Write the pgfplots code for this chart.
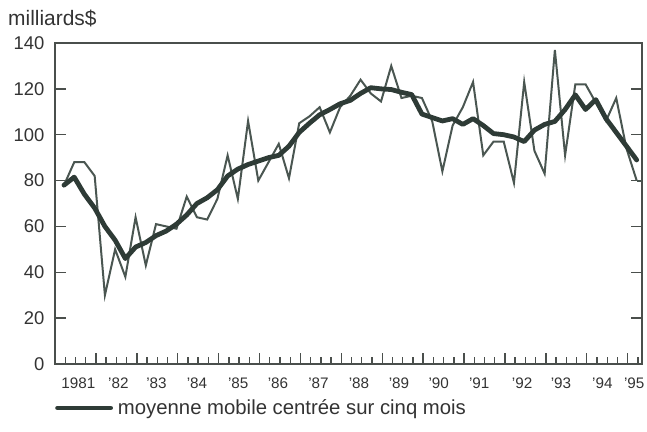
\documentclass[border=0pt]{standalone}
\usepackage{fontspec}
\setmainfont{Liberation Sans}
\usepackage{pgfplots}
\usepackage{pgfplotstable}
\pgfplotsset{compat=1.18}
\definecolor{rawc}{HTML}{4A5651}
\definecolor{mac}{HTML}{2E3B36}
\definecolor{framec}{HTML}{4A4F4C}
\definecolor{textc}{HTML}{333333}
\pgfplotstableread{
x raw ma
1981.22 78 78
1981.47 88 81.5
1981.72 88 74
1981.97 82 68
1982.22 30 60
1982.47 50 54
1982.72 38 46
1982.97 64 51
1983.22 43 53
1983.47 61 56
1983.72 60 58
1983.97 59 61
1984.22 73 65
1984.47 64 70
1984.72 63 72.5
1984.97 72 76
1985.22 91 82
1985.47 72 85
1985.72 106 87
1985.97 80 88.5
1986.22 88 90
1986.47 96 91
1986.72 81 95
1986.97 105 101
1987.22 108 105
1987.47 112 108.7
1987.72 101 111
1987.97 112 113.5
1988.22 117 115
1988.47 124 118
1988.72 118 120.5
1988.97 114.5 120
1989.22 130 119.7
1989.47 116 118.5
1989.72 117 117.5
1989.97 116 109
1990.22 106 107.5
1990.47 84 106
1990.72 104 107
1990.97 112 104.5
1991.22 123 107
1991.47 91 104
1991.72 97 100.5
1991.97 97 100
1992.22 79 99
1992.47 123 97
1992.72 93 102
1992.97 83 104.5
1993.22 137 105.8
1993.47 91 111
1993.72 122 117.4
1993.97 122 111
1994.22 114 115.3
1994.47 106 107
1994.72 116 101
1994.97 94 95
1995.22 80 89
}\datatable
\pgfplotstableread{
x raw
1995.22 80
1995.47 80
}\tailtable
\begin{document}
\begin{tikzpicture}
\path[use as bounding box] (0,0) rectangle (647bp,432bp);
\begin{axis}[
  at={(55bp,68bp)}, anchor=south west,
  scale only axis, width=587bp, height=321bp,
  xmin=1981, xmax=1995.35, ymin=0, ymax=140,
  axis line style={framec, line width=1.1bp},
  every tick/.style={framec, line width=1.4bp},
  tick align=inside,
  xtick pos=bottom, ytick pos=both, yticklabel pos=left,
  ytick={0,20,...,140},
  xtick={1981,...,1995}, xticklabels={},
  major tick length=11bp,
  minor tick length=7bp,
  minor xtick={1981.25,1981.5,1981.75,1982.25,1982.5,1982.75,1983.25,1983.5,1983.75,1984.25,1984.5,1984.75,1985.25,1985.5,1985.75,1986.25,1986.5,1986.75,1987.25,1987.5,1987.75,1988.25,1988.5,1988.75,1989.25,1989.5,1989.75,1990.25,1990.5,1990.75,1991.25,1991.5,1991.75,1992.25,1992.5,1992.75,1993.25,1993.5,1993.75,1994.25,1994.5,1994.75,1995.25},
  every minor tick/.style={framec, line width=1.4bp},
  extra x ticks={1981.57,1982.55,1983.48,1984.47,1985.48,1986.45,1987.44,1988.43,1989.41,1990.38,1991.37,1992.42,1993.37,1994.38,1995.16},
  extra x tick labels={1981,'82,'83,'84,'85,'86,'87,'88,'89,'90,'91,'92,'93,'94,'95},
  extra x tick style={major tick length=0pt, xticklabel style={yshift=-10bp}},
  /pgf/number format/assume math mode=true,
  yticklabel style={font=\fontsize{18.5}{22}\selectfont, text=textc, xshift=-7bp},
  xticklabel style={font=\fontsize{15.3}{18}\selectfont, text=textc},
  legend style={at={(0,-0.137)}, anchor=west, draw=none, fill=none, inner sep=0pt,
    font=\fontsize{20.4}{24}\selectfont, text=textc},
  legend cell align=left,
]
\addplot[rawc, line width=2bp, line join=miter, forget plot] table[x=x, y=raw] {\datatable};
\addplot[rawc, line width=2bp, forget plot] table[x=x, y=raw] {\tailtable};
\addplot[mac, line width=4.8bp, line join=round, line cap=round,
  legend image code/.code={\draw[mac, line width=4.8bp] (0bp,0bp) -- (53bp,0bp);}]
  table[x=x, y=ma] {\datatable};
\addlegendentry{\hspace{3bp}moyenne mobile centrée sur cinq mois}
\end{axis}
\node[anchor=west, font=\fontsize{21}{25}\selectfont, text=textc, inner sep=0pt] at (8bp,414bp) {milliards\$};
\end{tikzpicture}
\end{document}
